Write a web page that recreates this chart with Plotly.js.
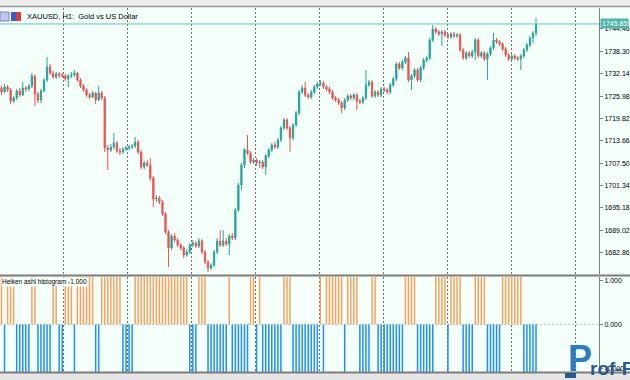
<!DOCTYPE html>
<html>
<head>
<meta charset="utf-8">
<script src="https://cdn.plot.ly/plotly-3.0.1.min.js"></script>
<style>html,body{margin:0;padding:0;background:#F5FFFA;}#chart{width:630px;height:380px;}</style>
</head>
<body>
<div id="chart"></div>
<script>
// XAUUSD H1 candles
const open = [
1728.21,1727.11,1728.49,1727.66,1724.63,1725.46,1727.39,1726.28,1728.21,1727.94,
1728.76,1731.52,1726.56,1724.91,1727.39,1730.41,1733.99,1732.34,1731.24,1732.07,
1731.79,1731.52,1730.69,1731.52,1731.79,1732.34,1730.41,1728.76,1727.66,1726.28,
1725.73,1726.83,1724.91,1726.83,1725.46,1711.69,1711.14,1711.96,1713.06,1710.86,
1710.59,1711.41,1711.69,1711.96,1712.24,1713.34,1710.59,1706.45,1707.56,1707.00,
1703.42,1697.64,1697.92,1696.81,1693.51,1688.55,1684.15,1687.45,1686.35,1684.97,
1684.15,1682.22,1683.04,1684.97,1685.52,1684.70,1686.07,1683.04,1680.29,1678.64,
1679.46,1683.04,1686.07,1684.97,1686.07,1685.25,1687.45,1686.90,1694.61,1701.50,
1707.00,1711.14,1710.31,1707.83,1708.38,1707.56,1707.83,1706.45,1709.48,1711.14,
1712.51,1711.96,1713.89,1717.19,1719.40,1717.19,1714.44,1718.02,1721.33,1727.11,
1728.21,1726.28,1725.73,1727.11,1728.49,1729.31,1729.59,1728.49,1727.94,1727.11,
1725.46,1724.91,1724.08,1722.70,1724.91,1726.01,1725.46,1726.28,1724.63,1724.36,
1725.46,1729.04,1729.86,1726.01,1727.11,1726.28,1727.94,1727.66,1727.11,1729.04,
1730.69,1734.82,1733.72,1735.37,1736.47,1730.41,1731.52,1733.17,1730.41,1733.72,
1735.92,1736.47,1741.43,1744.46,1743.63,1743.08,1743.63,1742.81,1742.26,1743.08,
1742.53,1742.81,1738.68,1736.47,1737.85,1737.02,1738.13,1741.43,1737.02,1737.85,
1736.20,1737.58,1739.23,1741.43,1740.88,1740.33,1738.95,1737.30,1736.20,1737.02,
1736.47,1736.20,1737.02,1738.68,1740.05,1741.98,1743.36];
const high = [
1728.76,1729.31,1729.04,1728.21,1726.01,1727.94,1728.21,1729.86,1728.76,1729.31,
1732.34,1731.79,1727.11,1727.94,1730.97,1736.75,1734.82,1732.89,1732.62,1732.62,
1732.34,1732.07,1732.07,1732.62,1733.17,1732.62,1730.97,1729.31,1728.21,1726.83,
1727.39,1727.11,1728.76,1727.39,1726.01,1712.51,1712.79,1715.82,1713.61,1711.69,
1711.96,1712.24,1712.51,1712.79,1714.72,1713.89,1711.14,1708.11,1708.38,1708.93,
1703.97,1698.74,1698.47,1697.37,1694.06,1689.10,1688.00,1688.28,1686.90,1685.52,
1684.70,1683.87,1685.52,1686.35,1686.07,1686.90,1686.62,1683.59,1680.84,1680.01,
1683.59,1686.90,1689.10,1689.10,1686.90,1688.00,1688.28,1695.16,1702.05,1707.56,
1711.69,1715.27,1710.86,1708.93,1708.93,1708.38,1708.38,1710.03,1711.69,1713.06,
1713.34,1714.44,1717.75,1719.95,1719.95,1717.75,1718.57,1721.88,1727.66,1729.04,
1729.86,1726.83,1727.66,1729.04,1729.86,1730.41,1730.14,1729.04,1728.49,1727.66,
1726.01,1725.46,1724.63,1725.46,1726.56,1726.56,1726.83,1726.83,1725.18,1726.01,
1733.17,1730.41,1730.41,1727.66,1727.66,1728.49,1728.49,1728.21,1729.59,1731.24,
1735.37,1735.37,1735.92,1737.02,1738.13,1732.07,1733.72,1733.72,1734.27,1736.47,
1737.02,1741.98,1745.56,1745.01,1744.18,1744.18,1744.18,1743.36,1743.63,1743.63,
1743.36,1743.36,1739.23,1738.40,1738.40,1738.68,1741.98,1741.98,1738.40,1738.40,
1738.13,1739.78,1743.36,1741.98,1741.43,1740.88,1739.50,1737.85,1737.58,1737.58,
1737.02,1737.58,1739.23,1740.60,1742.53,1743.91,1747.49];
const low = [
1726.28,1726.83,1727.11,1723.80,1724.08,1724.91,1725.73,1726.01,1727.11,1727.39,
1728.21,1723.25,1724.08,1724.08,1727.11,1729.86,1731.79,1730.69,1730.69,1730.97,
1730.97,1730.14,1728.49,1730.97,1731.24,1729.86,1728.21,1727.11,1725.73,1725.18,
1725.46,1723.80,1724.63,1724.91,1710.59,1705.63,1710.59,1711.41,1710.31,1709.76,
1710.03,1710.86,1711.14,1711.41,1711.69,1710.03,1705.90,1705.90,1706.45,1702.60,
1695.44,1696.81,1696.26,1692.96,1688.00,1678.91,1683.59,1685.80,1684.42,1683.59,
1681.39,1681.67,1682.49,1684.42,1684.15,1684.15,1682.49,1679.74,1677.54,1678.09,
1678.91,1682.49,1684.42,1684.42,1684.70,1682.22,1686.35,1686.35,1694.06,1700.12,
1706.18,1709.76,1707.28,1707.28,1706.73,1706.18,1705.90,1704.25,1708.93,1710.59,
1711.41,1711.41,1713.34,1716.64,1716.64,1710.59,1713.89,1717.47,1720.78,1726.56,
1725.73,1725.18,1725.18,1726.56,1727.94,1728.76,1727.94,1727.39,1726.56,1724.91,
1724.36,1723.53,1721.33,1722.15,1724.36,1724.91,1724.91,1722.15,1723.80,1723.80,
1724.91,1728.49,1725.46,1725.46,1725.73,1725.73,1727.11,1726.56,1726.56,1728.49,
1730.14,1733.17,1733.17,1734.82,1729.86,1727.66,1730.97,1729.86,1729.86,1733.17,
1735.37,1735.92,1740.88,1743.08,1742.53,1739.78,1742.26,1741.71,1741.71,1741.98,
1741.98,1738.13,1735.92,1735.92,1736.47,1736.47,1735.92,1736.47,1736.47,1735.65,
1730.41,1737.02,1738.68,1740.33,1739.78,1738.40,1736.75,1735.65,1735.65,1735.92,
1735.65,1733.17,1736.47,1738.13,1739.50,1740.60,1742.53];
const close = [
1727.11,1728.49,1727.66,1724.63,1725.46,1727.39,1726.28,1728.21,1727.94,1728.76,
1731.52,1726.56,1724.91,1727.39,1730.41,1733.99,1732.34,1731.24,1732.07,1731.79,
1731.52,1730.69,1731.52,1731.79,1732.34,1730.41,1728.76,1727.66,1726.28,1725.73,
1726.83,1724.91,1726.83,1725.46,1711.69,1711.14,1711.96,1713.06,1710.86,1710.59,
1711.41,1711.69,1711.96,1712.24,1713.34,1710.59,1706.45,1707.56,1707.00,1703.42,
1697.64,1697.92,1696.81,1693.51,1688.55,1684.15,1687.45,1686.35,1684.97,1684.15,
1682.22,1683.04,1684.97,1685.52,1684.70,1686.07,1683.04,1680.29,1678.64,1679.46,
1683.04,1686.07,1684.97,1686.07,1685.25,1687.45,1686.90,1694.61,1701.50,1707.00,
1711.14,1710.31,1707.83,1708.38,1707.56,1707.83,1706.45,1709.48,1711.14,1712.51,
1711.96,1713.89,1717.19,1719.40,1717.19,1714.44,1718.02,1721.33,1727.11,1728.21,
1726.28,1725.73,1727.11,1728.49,1729.31,1729.59,1728.49,1727.94,1727.11,1725.46,
1724.91,1724.08,1722.70,1724.91,1726.01,1725.46,1726.28,1724.63,1724.36,1725.46,
1729.04,1729.86,1726.01,1727.11,1726.28,1727.94,1727.66,1727.11,1729.04,1730.69,
1734.82,1733.72,1735.37,1736.47,1730.41,1731.52,1733.17,1730.41,1733.72,1735.92,
1736.47,1741.43,1744.46,1743.63,1743.08,1743.63,1742.81,1742.26,1743.08,1742.53,
1742.81,1738.68,1736.47,1737.85,1737.02,1738.13,1741.43,1737.02,1737.85,1736.20,
1737.58,1739.23,1741.43,1740.88,1740.33,1738.95,1737.30,1736.20,1737.02,1736.47,
1736.20,1737.02,1738.68,1740.05,1741.98,1743.36,1745.85];

// Heiken Ashi histogram state per bar: 1 = bearish (orange, top), -1 = bullish (blue, bottom)
const haState = [
1,-1,1,1,1,-1,-1,-1,-1,-1,
1,1,-1,-1,-1,-1,-1,1,1,-1,
-1,1,1,1,-1,1,1,1,1,1,
1,-1,-1,1,1,1,1,1,1,1,
-1,-1,-1,-1,1,1,1,1,1,1,
1,1,1,1,1,1,1,1,1,1,
1,1,-1,-1,-1,1,1,1,-1,-1,
-1,-1,-1,-1,-1,1,-1,-1,-1,-1,
-1,-1,1,1,-1,1,-1,-1,-1,-1,
-1,-1,-1,1,1,1,-1,-1,-1,-1,
-1,-1,-1,-1,-1,1,-1,1,1,1,
1,1,1,-1,1,1,1,1,-1,-1,
-1,-1,1,1,-1,-1,-1,-1,-1,-1,
-1,-1,-1,1,1,1,1,-1,-1,-1,
-1,-1,-1,1,1,1,1,-1,1,1,
1,1,-1,-1,-1,-1,1,1,1,1,
-1,-1,-1,-1,-1,1,1,1,1,1,
1,1,-1,-1,-1,-1,-1];

const priceTicks = [1682.86,1689.02,1695.18,1701.34,1707.50,1713.66,1719.82,1725.98,1732.14,1738.30,1744.46];
const histTickLabels = ['1.000','0.000','-1.000'];

const idx = close.map((_, i) => i);
const orangeY = haState.map(v => v === 1 ? 1 : null);
const blueY = haState.map(v => v === -1 ? -1 : null);
const last = close[close.length - 1];

const W = 630, H = 380;
const px = v => v / W, py = v => 1 - v / H;
const plotRight = 599 / W;
const font = 'Liberation Sans, Arial, sans-serif';

const traces = [
  {type:'candlestick', x: idx, open, high, low, close, xaxis:'x', yaxis:'y',
   increasing:{line:{color:'#26A69A', width:1}, fillcolor:'#26A69A'},
   decreasing:{line:{color:'#EF5350', width:1}, fillcolor:'#EF5350'},
   whiskerwidth:0, hoverinfo:'skip'},
  {type:'bar', x: idx, y: orangeY, xaxis:'x2', yaxis:'y2', width:0.5,
   marker:{color:'#F4A460', line:{width:0}}, hoverinfo:'skip'},
  {type:'bar', x: idx, y: blueY, xaxis:'x2', yaxis:'y2', width:0.5,
   marker:{color:'#1E90FF', line:{width:0}}, hoverinfo:'skip'}
];

const xCommon = {domain:[0, plotRight], range:[-0.494, 196.74], showticklabels:false, ticks:'',
  showgrid:true, gridcolor:'#6f6f6f', griddash:'2px,2px', gridwidth:1, tick0:20.25, dtick:21.074,
  zeroline:false, showline:false, fixedrange:true};

const layout = {
  width:W, height:H, margin:{l:0, r:0, t:0, b:0},
  paper_bgcolor:'#F5FFFA', plot_bgcolor:'#F5FFFA', showlegend:false,
  barmode:'overlay', boxgap:0.4,
  xaxis: Object.assign({}, xCommon, {anchor:'y', rangeslider:{visible:false}}),
  xaxis2: Object.assign({}, xCommon, {anchor:'y2', matches:'x'}),
  yaxis: {domain:[106/H, 372/H], range:[1677.0, 1750.24], side:'right', anchor:'x',
    tickvals: priceTicks, tickformat:'.2f', ticks:'outside', ticklen:3, tickcolor:'#808080',
    showline:true, linecolor:'#808080', linewidth:1, showgrid:false, zeroline:false, automargin:false,
    tickfont:{family:font, size:7, color:'#000'}, fixedrange:true},
  yaxis2: {domain:[8/H, 103/H], range:[-1, 1], side:'right', anchor:'x2',
    tickvals:[0.926, 0, -0.92], ticktext: histTickLabels, ticks:'outside', ticklen:3, tickcolor:'#808080',
    showline:true, linecolor:'#808080', linewidth:1, showgrid:false, zeroline:false, automargin:false,
    tickfont:{family:font, size:7, color:'#000'}, fixedrange:true},
  shapes: [
    // window top bar
    {type:'rect', xref:'paper', yref:'paper', x0:0, x1:1, y0:py(6), y1:1, fillcolor:'#EDEDED', line:{width:0}, layer:'above'},
    {type:'line', xref:'paper', yref:'paper', x0:0, x1:1, y0:py(6.5), y1:py(6.5), line:{color:'#9A9A9A', width:1.5}, layer:'above'},
    // pane separator and bottom edge
    {type:'line', xref:'paper', yref:'paper', x0:0, x1:1, y0:py(275.5), y1:py(275.5), line:{color:'#7C7C7C', width:2}, layer:'above'},
    {type:'rect', xref:'paper', yref:'paper', x0:0, x1:1, y0:0, y1:py(373), fillcolor:'#E6E6E6', line:{width:0}, layer:'above'},
    {type:'line', xref:'paper', yref:'paper', x0:0, x1:1, y0:py(372.5), y1:py(372.5), line:{color:'#7C7C7C', width:2}, layer:'above'},
    // zero level of histogram
    {type:'line', xref:'paper', yref:'y2', x0:0, x1:plotRight, y0:0, y1:0, line:{color:'#C8C8C8', width:1, dash:'2px,2px'}, layer:'below'},
    // bid line
    {type:'line', xref:'paper', yref:'y', x0:0, x1:plotRight, y0:last, y1:last, line:{color:'#63C9B7', width:1}, layer:'above'},
    // header icons
    {type:'rect', xref:'paper', yref:'paper', x0:px(0), x1:px(9), y0:py(21), y1:py(12), fillcolor:'#C4C4F0', line:{color:'#7A7AC8', width:1}, layer:'above'},
    {type:'rect', xref:'paper', yref:'paper', x0:px(11), x1:px(16), y0:py(21), y1:py(12), fillcolor:'#3A5BD9', line:{width:0}, layer:'above'},
    {type:'rect', xref:'paper', yref:'paper', x0:px(16), x1:px(21), y0:py(21), y1:py(12), fillcolor:'#D93A3A', line:{width:0}, layer:'above'},
    // logo underscore
    {type:'rect', xref:'paper', yref:'paper', x0:px(565), x1:px(576), y0:py(378), y1:py(373), fillcolor:'#2A5A8A', line:{width:0}, layer:'above'}
  ],
  annotations: [
    {xref:'paper', yref:'paper', x:px(25), y:py(16), xanchor:'left', yanchor:'middle', showarrow:false,
     text:'XAUUSD, H1:  Gold vs US Dollar', font:{family:font, size:7.5, color:'#000'}},
    {xref:'paper', yref:'y', x:px(600), y:last, xanchor:'left', yanchor:'middle', showarrow:false,
     text:last.toFixed(2), bgcolor:'#4DB6A5', borderpad:1, font:{family:font, size:7, color:'#FFFFFF'}},
    {xref:'paper', yref:'paper', x:px(1), y:py(282), xanchor:'left', yanchor:'middle', showarrow:false,
     text:'Heiken ashi histogram -1.000', bgcolor:'#F5FFFA', borderpad:0, font:{family:font, size:6.5, color:'#000'}},
    {xref:'paper', yref:'paper', x:px(566), y:py(381), xanchor:'left', yanchor:'bottom', showarrow:false,
     text:'<b>P</b>', font:{family:font, size:36, color:'#2C7DC0'}},
    {xref:'paper', yref:'paper', x:px(588), y:py(381), xanchor:'left', yanchor:'bottom', showarrow:false,
     text:'<b>rof-F</b>', font:{family:font, size:19, color:'#2A5A8A'}}
  ]
};

Plotly.newPlot('chart', traces, layout, {staticPlot:true, displayModeBar:false});
</script>
</body>
</html>
